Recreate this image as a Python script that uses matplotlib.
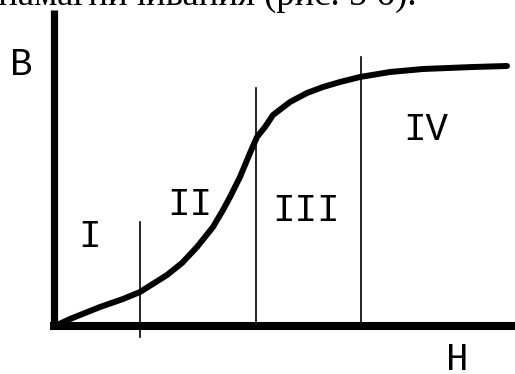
import numpy as np
import matplotlib
matplotlib.use("Agg")
import matplotlib.pyplot as plt

# Magnetisation curve B(H), schematic units
H = [0, 15, 45, 68, 85, 112, 127, 142, 158, 168, 175, 185, 195, 202, 210, 218,
     235, 252, 268, 285, 305, 335, 368, 418, 452]
B = [0, 7, 19, 27, 34, 51, 63, 79, 99, 116, 129, 149, 173, 189, 199, 211,
     224, 233, 239, 244, 249, 254, 257, 259, 260]

# region boundaries (H position, top and bottom of the divider line)
bound_H = [85, 201, 306]
bound_top = [104, 238, 269]
bound_bottom = [-11, 0, 0]

region_labels = ["I", "II", "III", "IV"]
region_label_pos = [(35, 79), (135, 111), (251, 105), (371, 186)]

caption = "участки кривой намагничивания (рис. 5 б)."

fig = plt.figure(figsize=(5.15, 3.74), dpi=100)
ax = fig.add_axes([0, 0, 1, 1])
ax.set_xlim(-55, 460)
ax.set_ylim(-48, 326)
ax.axis("off")

mono = "Liberation Mono"

# axes drawn as thick lines
ax.plot([-1, -1], [0, 316], color="black", lw=5.2, solid_capstyle="butt")
ax.plot([-5, 460], [0, 0], color="black", lw=5.8, solid_capstyle="butt")

# region dividers
for h, top, bot in zip(bound_H, bound_top, bound_bottom):
    ax.plot([h, h], [bot, top], color="black", lw=1.2)

# the curve
ax.plot(H, B, color="black", lw=4.3, solid_capstyle="round", solid_joinstyle="round")

# labels
for lab, (x, y) in zip(region_labels, region_label_pos):
    ax.text(x, y, lab, family=mono, fontsize=27, ha="center", va="baseline")
ax.text(-34, 251, "B", family=mono, fontsize=27, ha="center", va="baseline")
ax.text(402, -44, "H", family=mono, fontsize=27, ha="center", va="baseline")

# cut-off caption line from the page above
fig.text(417 / 515, 1 - 5 / 374, caption, family="Liberation Serif",
         fontsize=26.5, ha="right", va="baseline")

fig.savefig("out.png", dpi=100)
